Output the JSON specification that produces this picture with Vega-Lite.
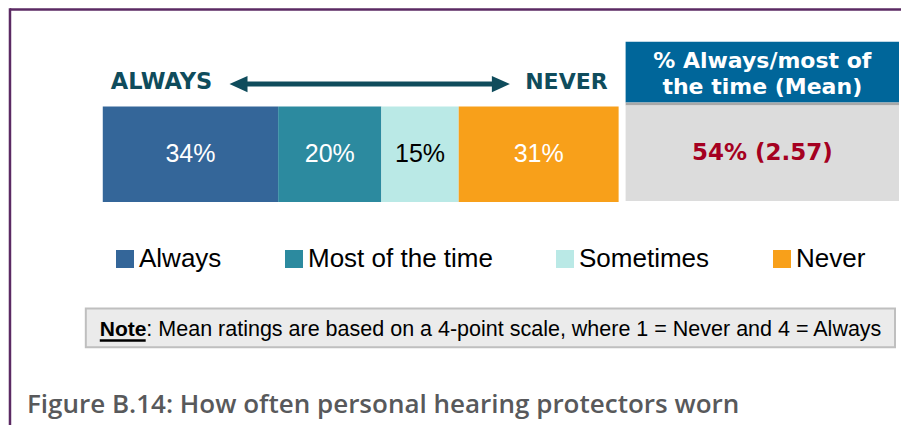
{
  "$schema": "https://vega.github.io/schema/vega-lite/v6.json",
  "width": 903,
  "height": 427,
  "autosize": {"type": "fit", "contains": "padding"},
  "padding": 0,
  "background": "white",
  "config": {"view": {"stroke": null}, "axis": {"disable": true}},
  "datasets": {
    "responses": [
      {"category": "Always", "share": 0.34, "idx": 1},
      {"category": "Most of the time", "share": 0.20, "idx": 2},
      {"category": "Sometimes", "share": 0.15, "idx": 3},
      {"category": "Never", "share": 0.31, "idx": 4}
    ],
    "summary": [
      {"header": "% Always/most of\nthe time (Mean)", "value": "54% (2.57)", "left": "ALWAYS", "right": "NEVER", "noteLead": "Note", "noteText": ": Mean ratings are based on a 4-point scale, where 1 = Never and 4 = Always", "caption": "Figure B.14: How often personal hearing protectors worn"}
    ]
  },
  "data": {"name": "summary"},
  "layer": [
    {
      "mark": {"type": "rule", "color": "#5b2a63", "strokeWidth": 2.5},
      "encoding": {
        "x": {"datum": -0.17988, "type": "quantitative", "scale": {"domain": [-0.19923, 1.54739], "nice": false, "zero": false}, "axis": null},
        "x2": {"datum": 1.54739},
        "y": {"datum": 9.5, "type": "quantitative", "scale": {"domain": [0, 427], "reverse": true, "nice": false, "zero": false}, "axis": null}
      }
    },
    {
      "mark": {"type": "rule", "color": "#5b2a63", "strokeWidth": 2.5},
      "encoding": {
        "x": {"datum": -0.17988, "type": "quantitative"},
        "y": {"datum": 8.3, "type": "quantitative"},
        "y2": {"datum": 427}
      }
    },
    {
      "mark": {"type": "rect", "color": "#00669a"},
      "encoding": {
        "x": {"datum": 1.01354, "type": "quantitative"},
        "x2": {"datum": 1.54352},
        "y": {"datum": 42, "type": "quantitative"},
        "y2": {"datum": 103}
      }
    },
    {
      "mark": {"type": "rect", "color": "#a8a8a8"},
      "encoding": {
        "x": {"datum": 1.01354, "type": "quantitative"},
        "x2": {"datum": 1.54352},
        "y": {"datum": 103, "type": "quantitative"},
        "y2": {"datum": 106}
      }
    },
    {
      "mark": {"type": "rect", "color": "#dcdcdc"},
      "encoding": {
        "x": {"datum": 1.01354, "type": "quantitative"},
        "x2": {"datum": 1.54352},
        "y": {"datum": 106, "type": "quantitative"},
        "y2": {"datum": 202}
      }
    },
    {
      "mark": {"type": "text", "font": "DejaVu Sans", "fontWeight": "bold", "fontSize": 22, "color": "white", "lineBreak": "\n", "lineHeight": 26, "align": "center", "baseline": "middle"},
      "encoding": {
        "x": {"datum": 1.27853, "type": "quantitative"},
        "y": {"datum": 61, "type": "quantitative"},
        "text": {"field": "header"}
      }
    },
    {
      "mark": {"type": "text", "font": "DejaVu Sans", "fontWeight": "bold", "fontSize": 23, "color": "#a50021", "align": "center", "baseline": "middle"},
      "encoding": {
        "x": {"datum": 1.27853, "type": "quantitative"},
        "y": {"datum": 154, "type": "quantitative"},
        "text": {"field": "value"}
      }
    },
    {
      "mark": {"type": "text", "font": "DejaVu Sans", "fontWeight": "bold", "fontSize": 22.5, "color": "#0f4c5c", "align": "left", "baseline": "middle"},
      "encoding": {
        "x": {"datum": 0.01547, "type": "quantitative"},
        "y": {"datum": 82, "type": "quantitative"},
        "text": {"field": "left"}
      }
    },
    {
      "mark": {"type": "text", "font": "DejaVu Sans", "fontWeight": "bold", "fontSize": 22, "color": "#0f4c5c", "align": "right", "baseline": "middle"},
      "encoding": {
        "x": {"datum": 0.97872, "type": "quantitative"},
        "y": {"datum": 82, "type": "quantitative"},
        "text": {"field": "right"}
      }
    },
    {
      "mark": {"type": "rule", "color": "#0f4c5c", "strokeWidth": 5},
      "encoding": {
        "x": {"datum": 0.26499, "type": "quantitative"},
        "x2": {"datum": 0.76789},
        "y": {"datum": 84.5, "type": "quantitative"}
      }
    },
    {
      "mark": {"type": "point", "shape": "M1,-0.9L-1,0L1,0.9Z", "filled": true, "color": "#0f4c5c", "opacity": 1, "size": 324, "strokeWidth": 0},
      "encoding": {
        "x": {"datum": 0.26306, "type": "quantitative"},
        "y": {"datum": 84.5, "type": "quantitative"}
      }
    },
    {
      "mark": {"type": "point", "shape": "M-1,-0.9L1,0L-1,0.9Z", "filled": true, "color": "#0f4c5c", "opacity": 1, "size": 324, "strokeWidth": 0},
      "encoding": {
        "x": {"datum": 0.77176, "type": "quantitative"},
        "y": {"datum": 84.5, "type": "quantitative"}
      }
    },
    {
      "data": {"name": "responses"},
      "transform": [
        {"stack": "share", "groupby": [], "sort": [{"field": "idx", "order": "ascending"}], "as": ["x0", "x1"]}
      ],
      "mark": {"type": "rect"},
      "encoding": {
        "x": {"field": "x0", "type": "quantitative"},
        "x2": {"field": "x1"},
        "y": {"datum": 107, "type": "quantitative"},
        "y2": {"datum": 203},
        "fill": {
          "field": "category",
          "type": "nominal",
          "scale": {"domain": ["Always", "Most of the time", "Sometimes", "Never"], "range": ["#346699", "#2c8a9f", "#bae9e6", "#f8a01a"]},
          "legend": {
            "orient": "none", "legendX": 112, "legendY": 246, "direction": "horizontal", "title": null,
            "symbolType": "square", "symbolSize": 324, "symbolStrokeWidth": 0, "symbolOpacity": 1,
            "labelFont": "Liberation Sans", "labelFontSize": 26, "labelColor": "black", "labelOffset": 1,
            "columnPadding": 59, "padding": 0, "labelLimit": 400
          }
        }
      }
    },
    {
      "data": {"name": "responses"},
      "transform": [
        {"stack": "share", "groupby": [], "sort": [{"field": "idx", "order": "ascending"}], "as": ["x0", "x1"]},
        {"fold": ["x0", "x1"], "as": ["edge", "pos"]},
        {"aggregate": [{"op": "mean", "field": "pos", "as": "mid"}], "groupby": ["category", "share"]}
      ],
      "mark": {"type": "text", "font": "Liberation Sans", "fontSize": 25, "align": "center", "baseline": "middle"},
      "encoding": {
        "x": {"field": "mid", "type": "quantitative"},
        "y": {"datum": 155, "type": "quantitative"},
        "text": {"field": "share", "type": "quantitative", "format": ".0%"},
        "color": {"condition": {"test": "datum.category === 'Sometimes'", "value": "black"}, "value": "white"}
      }
    },
    {
      "mark": {"type": "rect", "color": "#ebebeb", "stroke": "#bfbfbf", "strokeWidth": 2},
      "encoding": {
        "x": {"datum": -0.03288, "type": "quantitative"},
        "x2": {"datum": 1.53578},
        "y": {"datum": 310, "type": "quantitative"},
        "y2": {"datum": 349}
      }
    },
    {
      "mark": {"type": "text", "font": "Liberation Sans", "fontWeight": "bold", "fontSize": 21, "color": "black", "align": "left", "baseline": "alphabetic"},
      "encoding": {
        "x": {"datum": -0.0058, "type": "quantitative"},
        "y": {"datum": 338, "type": "quantitative"},
        "text": {"field": "noteLead"}
      }
    },
    {
      "mark": {"type": "rule", "color": "black", "strokeWidth": 2.5},
      "encoding": {
        "x": {"datum": -0.0058, "type": "quantitative"},
        "x2": {"datum": 0.0832},
        "y": {"datum": 342, "type": "quantitative"}
      }
    },
    {
      "mark": {"type": "text", "font": "Liberation Sans", "fontSize": 21.5, "color": "black", "align": "left", "baseline": "alphabetic"},
      "encoding": {
        "x": {"datum": 0.0845, "type": "quantitative"},
        "y": {"datum": 338, "type": "quantitative"},
        "text": {"field": "noteText"}
      }
    },
    {
      "mark": {"type": "text", "font": "Open Sans", "fontWeight": 600, "fontSize": 26, "color": "#58595b", "align": "left", "baseline": "middle"},
      "encoding": {
        "x": {"datum": -0.147, "type": "quantitative"},
        "y": {"datum": 407, "type": "quantitative"},
        "text": {"field": "caption"}
      }
    }
  ]
}
